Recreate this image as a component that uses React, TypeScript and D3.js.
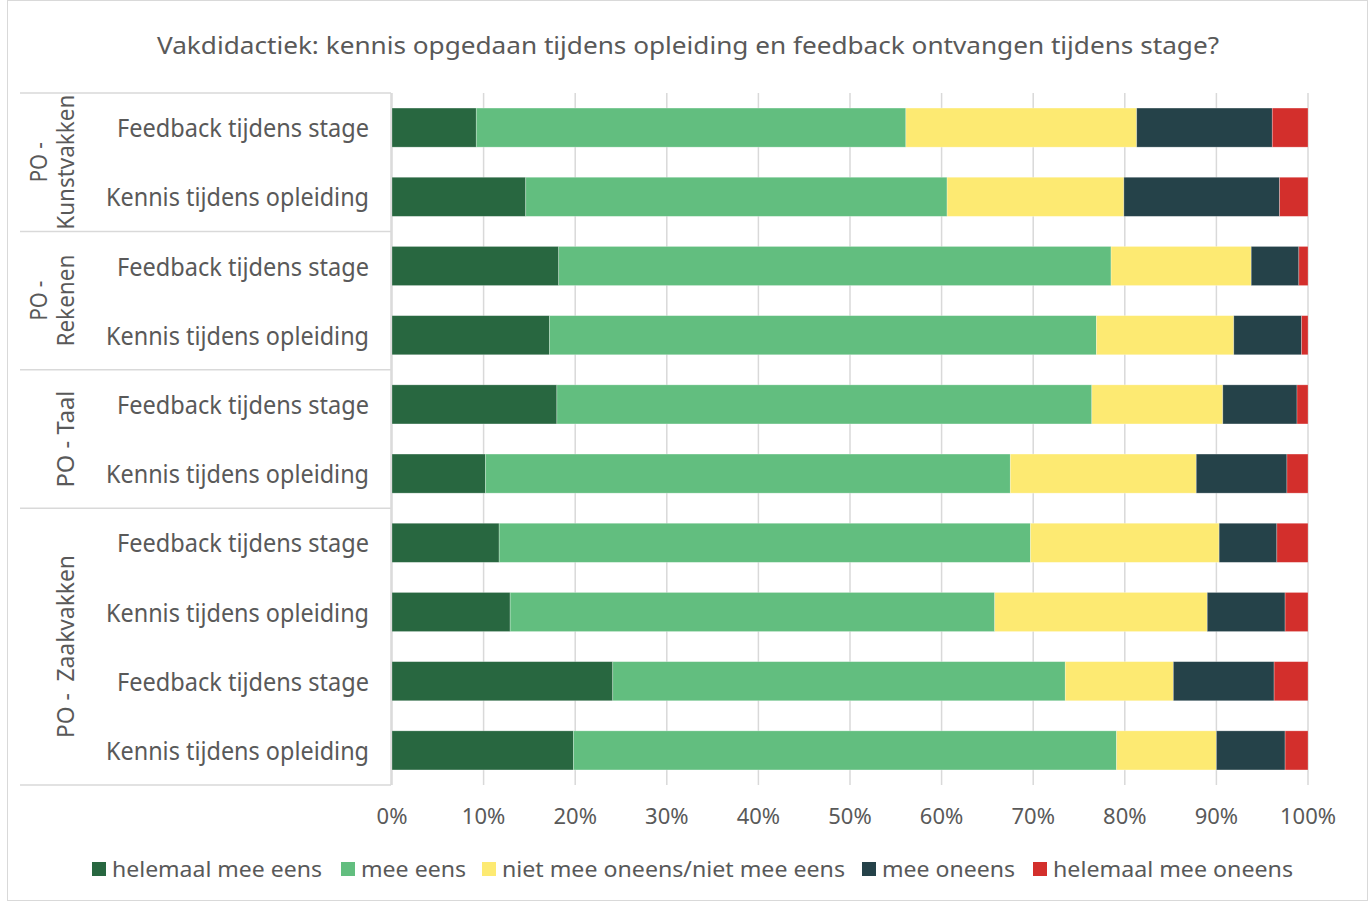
import React, { useEffect } from 'react';
import * as d3 from 'd3';

// rows top to bottom
const rowLabels = [
  'Feedback tijdens stage', 'Kennis tijdens opleiding',
  'Feedback tijdens stage', 'Kennis tijdens opleiding',
  'Feedback tijdens stage', 'Kennis tijdens opleiding',
  'Feedback tijdens stage', 'Kennis tijdens opleiding',
  'Feedback tijdens stage', 'Kennis tijdens opleiding',
];

// group name (wrapped as in the original), number of rows
const groupLines = [['PO -', 'Kunstvakken'], ['PO -', 'Rekenen'], ['PO - Taal'], ['PO -  Zaakvakken']];
const groupSizes = [2, 2, 2, 4];

const seriesNames = ['helemaal mee eens', 'mee eens', 'niet mee oneens/niet mee eens', 'mee oneens', 'helemaal mee oneens'];
const seriesColors = ['#286740', '#62BE7F', '#FDEA72', '#254249', '#D32F2C'];

const helemaalEens = [9.2, 14.6, 18.2, 17.2, 18.0, 10.2, 11.7, 12.9, 24.1, 19.8];
const meeEens = [46.9, 46.0, 60.3, 59.7, 58.4, 57.3, 58.0, 52.9, 49.4, 59.3];
const neutraal = [25.2, 19.3, 15.3, 15.0, 14.3, 20.3, 20.6, 23.2, 11.8, 10.9];
const meeOneens = [14.8, 17.0, 5.2, 7.4, 8.1, 9.9, 6.3, 8.5, 11.0, 7.5];
const helemaalOneens = [3.9, 3.1, 1.0, 0.7, 1.2, 2.3, 3.4, 2.5, 3.7, 2.5];

const xTicks = [0, 10, 20, 30, 40, 50, 60, 70, 80, 90, 100];

const W = 1370;
const H = 902;
const FONT = "'Noto Sans', sans-serif";
const TXT = '#595959';

// approximate rendered widths in the original (Avenir-like font)
const widthOf: Record<string, number> = {
  'Feedback tijdens stage': 252,
  'Kennis tijdens opleiding': 263,
  'helemaal mee eens': 210,
  'mee eens': 105,
  'niet mee oneens/niet mee eens': 343,
  'mee oneens': 133,
  'helemaal mee oneens': 240,
  'PO -': 40,
  'Kunstvakken': 135,
  'Rekenen': 92,
  'PO - Taal': 97,
  'PO -  Zaakvakken': 183,
};

const App: React.FC = () => {
  useEffect(() => {
    document.body.style.margin = '0';
  }, []);

  const left = 392;
  const right = 1308;
  const top = 93;
  const bottom = 785;

  const x = d3.scaleLinear().domain([0, 100]).range([left, right]);
  const y = d3.scaleBand<number>()
    .domain(d3.range(rowLabels.length))
    .range([top, bottom])
    .paddingInner(0.435)
    .paddingOuter(0.2175);

  const table = rowLabels.map((_, i) => ({
    i,
    s0: helemaalEens[i],
    s1: meeEens[i],
    s2: neutraal[i],
    s3: meeOneens[i],
    s4: helemaalOneens[i],
  }));
  const stacked = d3.stack<any>().keys(['s0', 's1', 's2', 's3', 's4'])(table);

  const step = y.step();
  const groupBounds: [number, number][] = [];
  let acc = 0;
  groupSizes.forEach(n => {
    groupBounds.push([top + acc * step, top + (acc + n) * step]);
    acc += n;
  });

  const legendX = [92, 341, 482, 862, 1033];

  return (
    <svg width={W} height={H} style={{ display: 'block', fontFamily: FONT }}>
      <rect x={7.5} y={0.5} width={1360} height={900} fill="#fff" stroke="#d9d9d9" />
      <text x={157} y={45} dominantBaseline="central" fontSize={23.5} fill={TXT}
        textLength={1062} lengthAdjust="spacingAndGlyphs">
        Vakdidactiek: kennis opgedaan tijdens opleiding en feedback ontvangen tijdens stage?
      </text>

      {/* gridlines */}
      {xTicks.map(t => (
        <line key={t} x1={x(t)} x2={x(t)} y1={top} y2={bottom} stroke="#d9d9d9" strokeWidth={1.5} />
      ))}

      {/* bars */}
      {stacked.map((layer, k) => (
        <g key={k} fill={seriesColors[k]}>
          {layer.map((d, i) => (
            <rect key={i} x={x(d[0])} y={y(i)} width={x(d[1]) - x(d[0])} height={y.bandwidth()}
              stroke="#fff" strokeOpacity={0.35} strokeWidth={0.75} />
          ))}
        </g>
      ))}

      {/* category axis */}
      <line x1={left - 1} x2={left - 1} y1={top} y2={bottom} stroke="#d9d9d9" strokeWidth={1.5} />
      {groupBounds.map((b, g) => (
        <line key={'gt' + g} x1={20} x2={left - 1} y1={b[0]} y2={b[0]} stroke="#d9d9d9" strokeWidth={1.5} />
      ))}
      <line x1={20} x2={left - 1} y1={bottom} y2={bottom} stroke="#d9d9d9" strokeWidth={1.5} />

      {rowLabels.map((l, i) => (
        <text key={i} x={369} y={(y(i) ?? 0) + y.bandwidth() / 2} textAnchor="end" dominantBaseline="central"
          fontSize={24.5} fill={TXT} textLength={widthOf[l]} lengthAdjust="spacingAndGlyphs">{l}</text>
      ))}

      {groupLines.map((lines, g) => {
        const cy = (groupBounds[g][0] + groupBounds[g][1]) / 2;
        return (
          <g key={g} transform={`translate(0,${cy}) rotate(-90)`}>
            {lines.map((ln, j) => {
              const cx = lines.length === 2 && j === 0 ? 38 : 65;
              return (
                <text key={j} x={0} y={cx} textAnchor="middle" dominantBaseline="central"
                  fontSize={23} fill={TXT} style={{ whiteSpace: 'pre' }}
                  textLength={widthOf[ln]} lengthAdjust="spacingAndGlyphs">{ln}</text>
              );
            })}
          </g>
        );
      })}

      {/* x tick labels */}
      {xTicks.map(t => (
        <text key={t} x={x(t)} y={815} textAnchor="middle" dominantBaseline="central" fontSize={22} fill={TXT}>
          {t}%
        </text>
      ))}

      {/* legend */}
      {seriesNames.map((n, k) => (
        <g key={n} transform={`translate(${legendX[k]},869)`}>
          <rect x={0} y={-7} width={14} height={14} fill={seriesColors[k]} />
          <text x={20} y={0} dominantBaseline="central" fontSize={21} fill={TXT}
            textLength={widthOf[n]} lengthAdjust="spacingAndGlyphs">{n}</text>
        </g>
      ))}
    </svg>
  );
};

export default App;
